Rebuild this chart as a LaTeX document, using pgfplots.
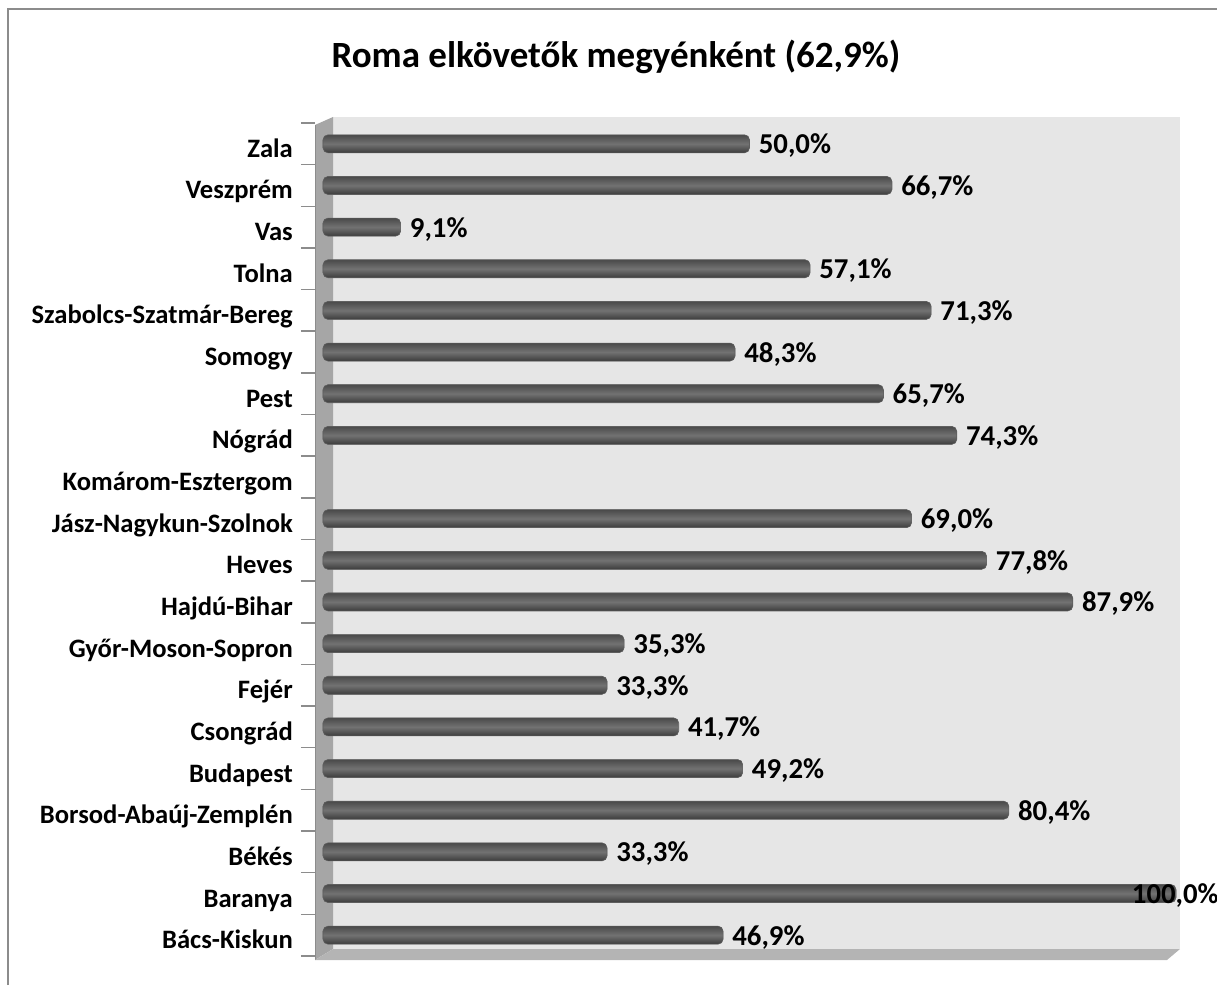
\documentclass[border=0pt]{standalone}
\usepackage{pgfplots}
\pgfplotsset{compat=1.18}
\usepackage{fontspec}
\setmainfont{Carlito}
\definecolor{backwall}{HTML}{E6E6E6}
\definecolor{sidewall}{HTML}{A6A6A6}
\definecolor{floorc}{HTML}{B4B4B4}
\definecolor{tickc}{HTML}{8C8C8C}
\definecolor{framec}{HTML}{8C8C8C}
\definecolor{bartop}{HTML}{4A4A4A}
\definecolor{barmid}{HTML}{727272}
\definecolor{barbot}{HTML}{3C3C3C}
\definecolor{baredge}{HTML}{5E5E5E}
\pgfplotsset{mybar/.style={fill=barmid, draw=baredge, line width=0.6pt, shading=axis, top color=bartop, bottom color=barbot, middle color=barmid, rounded corners=5pt}}
\newcommand\onebar[2]{\addplot[mybar] coordinates {(#1,#2)};}
\begin{document}
\begin{tikzpicture}[x=1pt,y=1pt]
\fill[backwall] (10,7) rectangle (857,839);
\fill[sidewall] (-8,831) -- (10,839) -- (10,7) -- (-8,-4) -- cycle;
\draw[black!45, line width=0.8pt] (-8,831) -- (-8,-4);
\fill[floorc] (-8,-4) -- (10,7) -- (857,7) -- (844,-4) -- cycle;
\begin{axis}[
  at={(0,0)}, anchor=south west, scale only axis,
  width=853pt, height=833pt,
  xmin=0, xmax=100, ymin=-0.5, ymax=19.5,
  axis line style={draw=none},
  xtick=\empty,
  ytick={0,...,19},
  yticklabels={Bács-Kiskun,Baranya,Békés,Borsod-Abaúj-Zemplén,Budapest,Csongrád,Fejér,Győr-Moson-Sopron,Hajdú-Bihar,Heves,Jász-Nagykun-Szolnok,Komárom-Esztergom,Nógrád,Pest,Somogy,Szabolcs-Szatmár-Bereg,Tolna,Vas,Veszprém,Zala},
  major tick length=0pt,
  y tick label style={font=\bfseries\fontsize{26.6}{30}\selectfont, anchor=east, inner sep=0pt, text height=18pt, text depth=6pt, xshift=-30pt, yshift=-7.5pt},
  xbar, bar width=18pt, bar shift=0pt,
  clip=false,
  point meta=x,
  nodes near coords={\pgfmathprintnumber[fixed,fixed zerofill,precision=1,use comma,assume math mode=true]{\pgfplotspointmeta}\%},
  nodes near coords style={font=\bfseries\fontsize{28.8}{32}\selectfont, anchor=west, inner sep=0pt, text height=19pt, text depth=5pt, xshift=9pt, yshift=-3pt, text=black},
]
\onebar{46.9}{0}
\addplot[mybar, nodes near coords style={anchor=east, xshift=34pt}] coordinates {(100,1)};
\onebar{33.3}{2}
\onebar{80.4}{3}
\onebar{49.2}{4}
\onebar{41.7}{5}
\onebar{33.3}{6}
\onebar{35.3}{7}
\onebar{87.9}{8}
\onebar{77.8}{9}
\onebar{69.0}{10}
\onebar{74.3}{12}
\onebar{65.7}{13}
\onebar{48.3}{14}
\onebar{71.3}{15}
\onebar{57.1}{16}
\onebar{9.1}{17}
\onebar{66.7}{18}
\onebar{50.0}{19}
\pgfplotsinvokeforeach{0,...,20}{\draw[tickc, line width=1.5pt] ([xshift=-22pt]axis cs:0,{#1-0.5}) -- ([xshift=-8pt]axis cs:0,{#1-0.5});}
\end{axis}
\node[font=\bfseries\fontsize{37}{44}\selectfont] at (293,899) {Roma elkövetők megyénként (62,9\%)};
\draw[framec, line width=2.5pt] (-315,-29) -- (-315,947) -- (894,947);
\pgfresetboundingbox
\path (-323,-29) rectangle (894,956);
\end{tikzpicture}
\end{document}
